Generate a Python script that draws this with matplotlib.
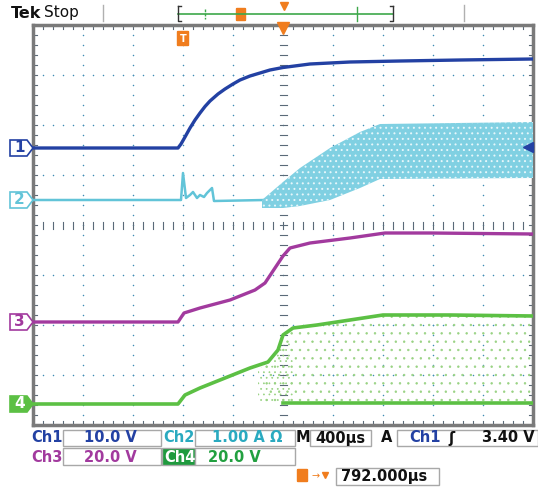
import matplotlib
matplotlib.use("Agg")
import matplotlib.pyplot as plt
import numpy as np
from matplotlib.patches import Rectangle, Polygon, FancyBboxPatch

# Scope traces in graticule divisions
# (x: 0..10 div left to right, y: -4..4 div bottom to top)
ch1_t = [0, 2.9, 2.96, 3.04, 3.14, 3.24, 3.34, 3.44, 3.54, 3.7, 3.84, 4.0, 4.14, 4.34,
         4.54, 4.74, 5.0, 5.54, 6.34, 7.34, 8.54, 10.0]
ch1_v = [1.54, 1.54, 1.62, 1.76, 1.94, 2.1, 2.24, 2.37, 2.48, 2.62, 2.72, 2.82, 2.9, 2.98,
         3.04, 3.1, 3.15, 3.22, 3.26, 3.28, 3.3, 3.32]

ch2_t = [0, 2.96, 3.0, 3.06, 3.14, 3.2, 3.28, 3.34, 3.42, 3.48, 3.54, 3.58, 3.62, 4.64, 5.14]
ch2_v = [0.5, 0.5, 1.04, 0.54, 0.6, 0.66, 0.54, 0.6, 0.56, 0.64, 0.7, 0.74, 0.48, 0.5, 0.5]
# ripple envelope of ch2 after switching starts
ch2_band_t = [4.58, 5.0, 5.34, 5.94, 6.54, 6.94, 10.0]
ch2_band_hi = [0.5, 0.86, 1.14, 1.54, 1.86, 2.02, 2.06]
ch2_band_lo = [0.34, 0.34, 0.38, 0.5, 0.74, 0.92, 0.94]

ch3_t = [0, 2.9, 3.02, 3.34, 3.94, 4.44, 4.64, 4.84, 5.0, 5.14, 5.54, 6.34, 7.04, 7.94, 10.0]
ch3_v = [-1.94, -1.94, -1.76, -1.66, -1.5, -1.3, -1.16, -0.86, -0.62, -0.46, -0.36, -0.26, -0.16, -0.16, -0.18]

ch4_t = [0, 2.9, 3.04, 3.34, 3.84, 4.34, 4.7, 4.9, 5.0, 5.2, 5.68, 6.34, 7.0, 8.34, 10.0]
ch4_v = [-3.58, -3.58, -3.4, -3.26, -3.06, -2.86, -2.74, -2.5, -2.2, -2.06, -2.0, -1.9, -1.8, -1.8, -1.82]
ch4_low_t = [5.0, 10.0]
ch4_low_v = [-3.56, -3.56]
ch4_band_t = [4.64, 4.9, 5.0, 5.2, 5.68, 6.34, 7.0, 8.34, 10.0]
ch4_band_hi = [-2.76, -2.5, -2.2, -2.06, -2.0, -1.9, -1.8, -1.8, -1.82]
ch4_band_lo = [-3.56] * 9
# denser spray just after the switching edge
ch4_spray_t = [4.5, 4.8, 5.0, 5.2]
ch4_spray_hi = [-2.9, -2.7, -2.4, -2.3]
ch4_spray_lo = [-3.56, -3.56, -3.56, -3.56]

C1, C2, C3, C4 = "#2341a3", "#62c4d8", "#a23a9e", "#5cc044"
ORANGE = "#f07d1e"
GRID = "#3f8cb4"

W, H = 538, 487
fig = plt.figure(figsize=(W / 100, H / 100), dpi=100)
ax = fig.add_axes([33 / W, (H - 425) / H, 500 / W, 400 / H])
ax.set_xlim(0, 10)
ax.set_ylim(-4, 4)
ax.set_xticks([])
ax.set_yticks([])
for s in ax.spines.values():
    s.set_color("#7a7a7a")
    s.set_linewidth(2.5)

# graticule: dotted division lines, ticked centre cross and border ticks
fine_y = np.arange(-4, 4.001, 0.2)
fine_x = np.arange(0, 10.001, 0.2)
for gx in range(1, 10):
    if gx != 5:
        ax.scatter([gx] * len(fine_y), fine_y, s=1.2, color=GRID, lw=0, zorder=1)
for gy in range(-3, 4):
    if gy != 0:
        ax.scatter(fine_x, [gy] * len(fine_x), s=1.2, color=GRID, lw=0, zorder=1)
tick = "#5a6a78"
for fx in fine_x:
    ax.plot([fx, fx], [-0.07, 0.07], color=tick, lw=0.8, zorder=1)
    ax.plot([fx, fx], [4, 3.92], color=tick, lw=0.8, zorder=1)
    ax.plot([fx, fx], [-4, -3.92], color=tick, lw=0.8, zorder=1)
for fy in fine_y:
    ax.plot([4.93, 5.07], [fy, fy], color=tick, lw=0.8, zorder=1)
    ax.plot([0, 0.08], [fy, fy], color=tick, lw=0.8, zorder=1)
    ax.plot([10, 9.92], [fy, fy], color=tick, lw=0.8, zorder=1)

# traces
plt.rcParams["hatch.linewidth"] = 0.5
ax.fill_between(ch4_band_t, ch4_band_lo, ch4_band_hi, facecolor="none",
                edgecolor="#98d282", hatch="..", linewidth=0, zorder=2)
ax.fill_between(ch4_spray_t, ch4_spray_lo, ch4_spray_hi, facecolor="none",
                edgecolor="#98d282", hatch="...", linewidth=0, zorder=2)
ax.plot(ch4_t, ch4_v, color=C4, lw=2.6, zorder=3)
ax.plot(ch4_low_t, ch4_low_v, color=C4, lw=2.6, zorder=3)
ax.plot(ch3_t, ch3_v, color=C3, lw=2.4, zorder=3)
ax.plot(ch2_t, ch2_v, color=C2, lw=1.8, zorder=3)
plt.rcParams["hatch.linewidth"] = 0.7
ax.fill_between(ch2_band_t, ch2_band_lo, ch2_band_hi, facecolor="#80d0e2",
                edgecolor="#e6f6fa", hatch="...", linewidth=0, zorder=3)
ax.plot(ch1_t, ch1_v, color=C1, lw=2.4, zorder=4)

# channel ground markers on the left edge
marks = [("1", ch1_v[0], C1, False), ("2", ch2_v[0], C2, False),
         ("3", ch3_v[0], C3, False), ("4", ch4_v[0], C4, True)]
for lab, yv, col, filled in marks:
    poly = Polygon([(-0.46, yv - 0.16), (-0.12, yv - 0.16), (0.0, yv),
                    (-0.12, yv + 0.16), (-0.46, yv + 0.16)], closed=True,
                   facecolor=col if filled else "white", edgecolor=col,
                   lw=1.2, clip_on=False, zorder=6)
    ax.add_patch(poly)
    ax.text(-0.27, yv, lab, color="white" if filled else col, ha="center",
            va="center", fontsize=11, fontweight="bold", clip_on=False, zorder=7)

# trigger level arrow (right) and trigger / position markers (top)
ax.plot([9.9, 10], [1.56, 1.56], color=C1, lw=1.5, clip_on=False, zorder=6)
ax.plot([9.9], [1.56], marker="<", color=C1, ms=7, clip_on=False, zorder=6)
ax.plot([5.0], [3.95], marker="v", color=ORANGE, ms=8, clip_on=False, zorder=6)
ax.add_patch(FancyBboxPatch((2.9, 3.6), 0.2, 0.26, boxstyle="round,pad=0.01",
                            facecolor=ORANGE, edgecolor=ORANGE, zorder=6))
ax.text(3.0, 3.73, "T", color="white", fontsize=7, fontweight="bold",
        ha="center", va="center", zorder=7)

# overlay in pixel space for the scope readouts
ov = fig.add_axes([0, 0, 1, 1])
ov.set_xlim(0, W)
ov.set_ylim(H, 0)
ov.axis("off")

ov.text(11, 13, "Tek", fontsize=11.5, fontweight="bold", va="center", color="#111")
ov.text(44, 13, "Stop", fontsize=11, va="center", color="#111")
for gx in (103, 464):
    ov.plot([gx, gx], [5, 21], color="#b0b0b0", lw=1)
ov.plot([178, 393], [14, 14], color="#3da84a", lw=1.2)
ov.plot([178, 178, 181], [6, 21, 21], color="#333", lw=1)
ov.plot([178, 181], [6, 6], color="#333", lw=1)
ov.plot([393, 393, 390], [6, 21, 21], color="#333", lw=1)
ov.plot([393, 390], [6, 6], color="#333", lw=1)
ov.plot([205, 205], [9, 19], color="#3da84a", lw=1, ls=(0, (2, 1)))
ov.plot([357, 357], [7, 21], color="#3da84a", lw=1)
ov.add_patch(FancyBboxPatch((237, 9), 8, 11, boxstyle="round,pad=0.5",
                            facecolor=ORANGE, edgecolor=ORANGE))
ov.plot([284], [6], marker="v", color=ORANGE, ms=6)

box_ec = "#a8a8a8"
fs = 10.5


def box(x0, y0, w, h, fc="white"):
    ov.add_patch(Rectangle((x0, y0), w, h, facecolor=fc, edgecolor=box_ec, lw=1))


# row 1
ov.text(31, 438, "Ch1", color=C1, fontsize=fs, fontweight="bold", va="center")
box(63, 430, 98, 16)
ov.text(84, 438, "10.0 V", color=C1, fontsize=fs, fontweight="bold", va="center")
ov.text(163, 438, "Ch2", color="#2aaac0", fontsize=fs, fontweight="bold", va="center")
box(195, 430, 100, 16)
ov.text(212, 438, "1.00 A \u03a9", color="#2aaac0", fontsize=fs, fontweight="bold", va="center")
ov.text(296, 438, "M", color="#111", fontsize=fs, fontweight="bold", va="center")
box(310, 430, 61, 16)
ov.text(315, 438, "400\u00b5s", color="#111", fontsize=fs, fontweight="bold", va="center")
ov.text(381, 438, "A", color="#111", fontsize=fs, fontweight="bold", va="center")
box(397, 430, 141, 16)
ov.text(409, 438, "Ch1", color=C1, fontsize=fs, fontweight="bold", va="center")
ov.text(452, 438, "\u0283", color="#111", fontsize=fs, fontweight="bold", va="center", ha="center")
ov.text(535, 438, "3.40 V", color="#111", fontsize=fs, fontweight="bold", va="center", ha="right")

# row 2
ov.text(31, 457, "Ch3", color=C3, fontsize=fs, fontweight="bold", va="center")
box(63, 448, 98, 17)
ov.text(84, 457, "20.0 V", color=C3, fontsize=fs, fontweight="bold", va="center")
box(162, 448, 33, 17, fc="#1f9a3e")
ov.text(164, 457, "Ch4", color="white", fontsize=fs, fontweight="bold", va="center")
box(195, 448, 100, 17)
ov.text(208, 457, "20.0 V", color="#22a040", fontsize=fs, fontweight="bold", va="center")

# row 3
ov.add_patch(FancyBboxPatch((298, 470), 9, 11, boxstyle="round,pad=0.5",
                            facecolor=ORANGE, edgecolor=ORANGE))
ov.text(316, 476, "\u2192", color=ORANGE, fontsize=7, va="center", ha="center")
ov.plot([325], [475], marker="v", color=ORANGE, ms=5)
box(336, 468, 103, 17)
ov.text(341, 476.5, "792.000\u00b5s", color="#111", fontsize=fs, fontweight="bold", va="center")

fig.savefig("out.png", dpi=100)
